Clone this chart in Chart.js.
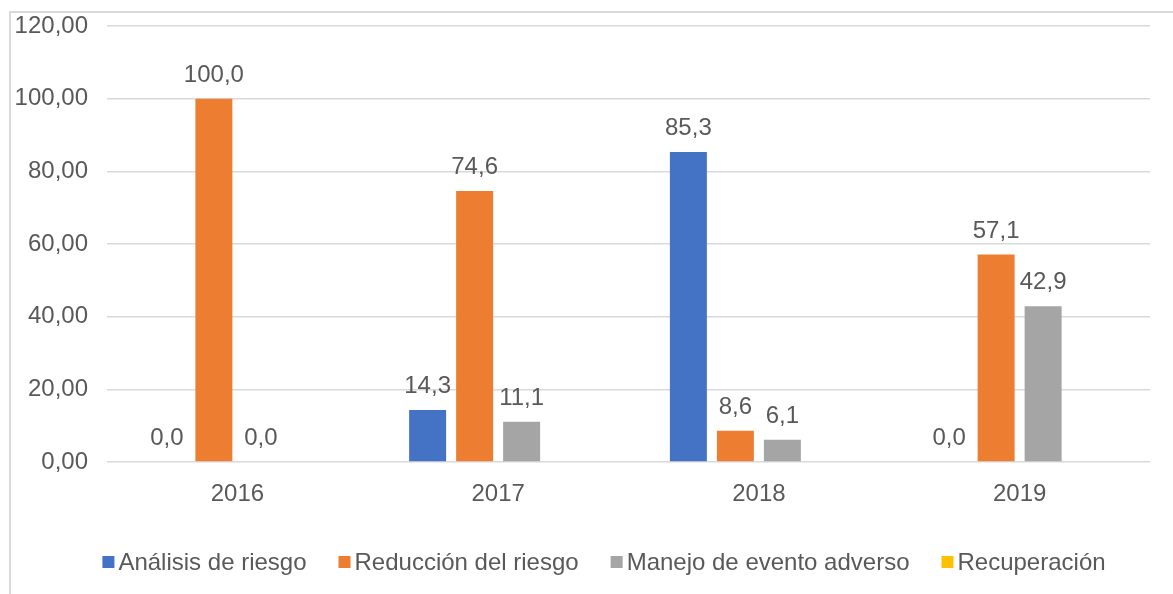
<!DOCTYPE html>
<html>
<head>
<meta charset="utf-8">
<script src="https://cdn.jsdelivr.net/npm/chart.js@4"></script>
<style>
  html, body { margin: 0; padding: 0; background: #fff; }
  #wrap { position: relative; width: 1173px; height: 594px; overflow: hidden; }
  #frame { position: absolute; left: 9px; top: 11px; width: 1300px; height: 700px;
           border-left: 2px solid #d9d9d9; border-top: 2px solid #d9d9d9; }
  canvas { position: absolute; left: 0; top: 0; }
</style>
</head>
<body>
<div id="wrap">
  <div id="frame"></div>
  <canvas id="chart" width="1173" height="594"></canvas>
</div>
<script>
const years = ['2016', '2017', '2018', '2019'];
const analisis = [0, 14.3, 85.3, 0];
const reduccion = [100, 74.6, 8.6, 57.1];
const manejo = [0, 11.1, 6.1, 42.9];
const recuperacion = [null, null, null, null];

const seriesNames = ['Análisis de riesgo', 'Reducción del riesgo', 'Manejo de evento adverso', 'Recuperación'];
const seriesColors = ['#4472C4', '#ED7D31', '#A5A5A5', '#FFC000'];

const FONT = '"Liberation Sans", Arial, sans-serif';
const FONT_SIZE = 24;
const TEXT = '#595959';

const fmt1 = v => v.toFixed(1).replace('.', ',');
const fmt2 = v => Number(v).toFixed(2).replace('.', ',');

// value labels above each bar
const valueLabels = {
  id: 'valueLabels',
  afterDatasetsDraw(chart) {
    const ctx = chart.ctx;
    ctx.save();
    ctx.font = `${FONT_SIZE}px ${FONT}`;
    ctx.fillStyle = TEXT;
    ctx.textAlign = 'center';
    ctx.textBaseline = 'alphabetic';
    chart.data.datasets.forEach((ds, i) => {
      chart.getDatasetMeta(i).data.forEach((bar, j) => {
        const v = ds.data[j];
        if (v == null) return;
        ctx.fillText(fmt1(v), bar.x, bar.y - 17);
      });
    });
    ctx.restore();
  }
};

// legend drawn like the office one: small square, tight gap
const bottomLegend = {
  id: 'bottomLegend',
  afterDraw(chart) {
    const ctx = chart.ctx;
    ctx.save();
    ctx.font = `${FONT_SIZE}px ${FONT}`;
    ctx.textBaseline = 'middle';
    ctx.textAlign = 'left';
    const box = 12, gap = 4, spacing = 32, cy = 562, centerX = 604;
    const widths = seriesNames.map(n => box + gap + ctx.measureText(n).width);
    const total = widths.reduce((a, b) => a + b, 0) + spacing * (widths.length - 1);
    let x = centerX - total / 2;
    seriesNames.forEach((n, i) => {
      ctx.fillStyle = seriesColors[i];
      ctx.fillRect(x, cy - box / 2, box, box);
      ctx.fillStyle = TEXT;
      ctx.fillText(n, x + box + gap, cy + 1);
      x += widths[i] + spacing;
    });
    ctx.restore();
  }
};

const seriesData = [analisis, reduccion, manejo, recuperacion];

new Chart(document.getElementById('chart'), {
  type: 'bar',
  data: {
    labels: years,
    datasets: seriesNames.map((name, i) => ({
      label: name,
      data: seriesData[i],
      backgroundColor: seriesColors[i],
      borderWidth: 0,
      categoryPercentage: 0.721,
      barPercentage: 0.787,
    }))
  },
  options: {
    responsive: false,
    animation: false,
    layout: { padding: { left: 0, right: 23, top: 26, bottom: 0 } },
    plugins: {
      legend: { display: false },
      tooltip: { enabled: false }
    },
    scales: {
      x: {
        grid: { display: false, drawTicks: false },
        border: { display: false },
        ticks: { color: TEXT, font: { family: FONT, size: FONT_SIZE }, padding: 18 },
        afterFit: s => { s.height = 132; s.paddingLeft = 0; s.paddingRight = 0; }
      },
      y: {
        min: 0, max: 120,
        grid: { color: '#d9d9d9', lineWidth: 1.5, drawTicks: false },
        border: { display: false },
        ticks: {
          stepSize: 20,
          color: TEXT,
          font: { family: FONT, size: FONT_SIZE },
          padding: 19,
          callback: v => fmt2(v)
        },
        afterFit: s => { s.width = 107; s.paddingTop = 0; s.paddingBottom = 0; }
      }
    }
  },
  plugins: [valueLabels, bottomLegend]
});
</script>
</body>
</html>
